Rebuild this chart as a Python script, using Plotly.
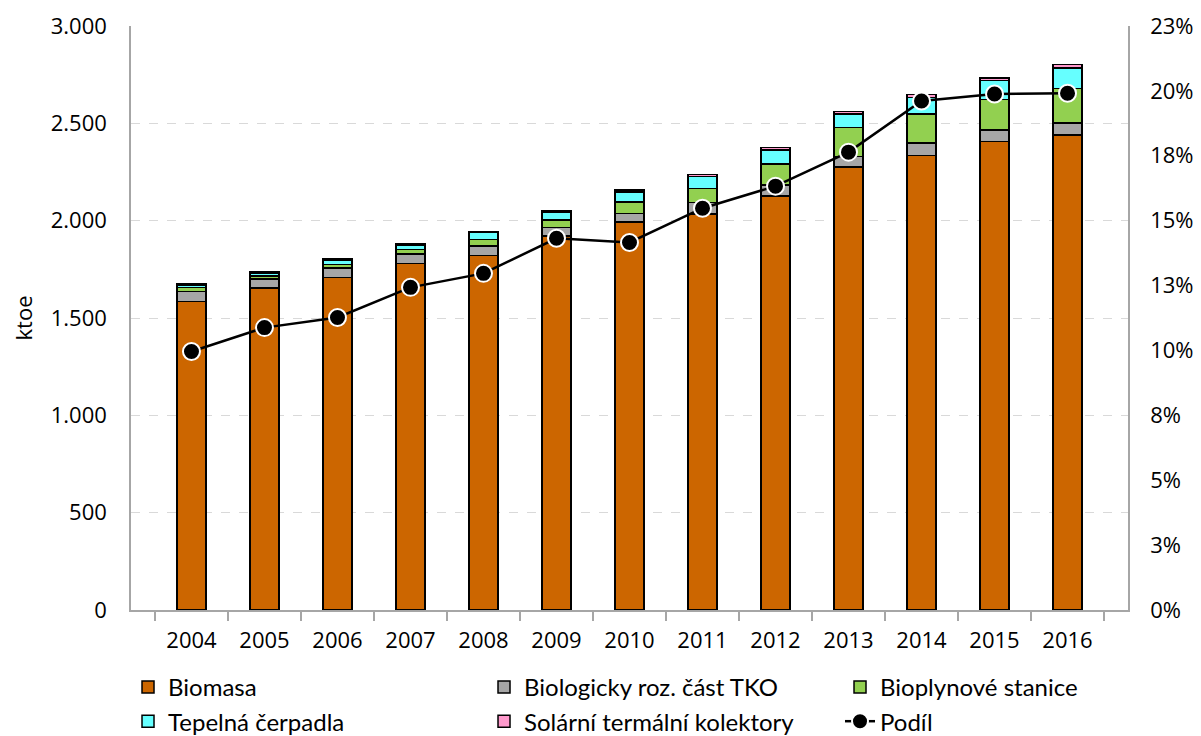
import plotly.graph_objects as go

years = ["2004", "2005", "2006", "2007", "2008", "2009", "2010",
         "2011", "2012", "2013", "2014", "2015", "2016"]
biomasa = [1585, 1655, 1707, 1780, 1822, 1921, 1993, 2033, 2127, 2276, 2336, 2407, 2441]
tko = [50, 45, 50, 50, 48, 43, 45, 60, 55, 53, 62, 60, 60]
bioplyn = [22, 15, 18, 22, 34, 39, 58, 73, 108, 149, 149, 155, 179]
cerpadla = [12, 17, 20, 22, 34, 41, 51, 62, 74, 69, 86, 97, 104]
solar = [5, 8, 8, 9, 7, 8, 10, 10, 12, 14, 16, 15, 19]
podil = [9.96, 10.88, 11.27, 12.43, 12.97, 14.32, 14.16, 15.48, 16.33, 17.64, 19.61, 19.88, 19.91]

left_ticks = [0, 500, 1000, 1500, 2000, 2500, 3000]
right_tickvals = [0, 2.5, 5, 7.5, 10, 12.5, 15, 17.5, 20, 22.5]
right_ticktext = ["0%", "3%", "5%", "8%", "10%", "13%", "15%", "18%", "20%", "23%"]

series = [
    ("Biomasa", biomasa, "#CC6600"),
    ("Biologicky roz. část TKO", tko, "#A6A6A6"),
    ("Bioplynové stanice", bioplyn, "#92D050"),
    ("Tepelná čerpadla", cerpadla, "#66FFFF"),
    ("Solární termální kolektory", solar, "#FF99CC"),
]

fig = go.Figure()
for name, vals, col in series:
    fig.add_trace(go.Bar(
        x=years, y=vals, name=name, width=0.4,
        marker=dict(color=col, line=dict(color="black", width=1.5)),
        yaxis="y",
    ))

fig.add_trace(go.Scatter(
    x=years, y=podil, name="Podíl", mode="lines+markers",
    line=dict(color="black", width=2.5),
    marker=dict(color="black", size=17, line=dict(color="white", width=2)),
    yaxis="y2",
))

tick_font = dict(family="Open Sans", size=22, color="black")
grey = "#A6A6A6"

fig.update_layout(
    width=1193, height=728,
    barmode="stack",
    separators=",.",
    plot_bgcolor="white",
    paper_bgcolor="white",
    margin=dict(l=123, r=73, t=18, b=126, autoexpand=False),
    showlegend=True,
    legend=dict(
        orientation="h", traceorder="normal",
        xref="paper", yref="paper",
        x=-0.003, y=-0.094, xanchor="left", yanchor="top",
        entrywidth=311, entrywidthmode="pixels",
        font=dict(family="Lato", size=24, color="black"),
        tracegroupgap=0, itemwidth=30,
        bgcolor="rgba(0,0,0,0)",
    ),
    xaxis=dict(
        type="category", showline=True, linecolor=grey, linewidth=1.5,
        ticks="outside", tickson="boundaries", ticklen=9, tickcolor=grey,
        tickwidth=1.5, tickfont=tick_font, showgrid=False, automargin=False,
        ticklabelstandoff=10,
    ),
    yaxis=dict(
        range=[0, 3000], tickvals=left_ticks, tickformat=",d",
        showgrid=True, gridcolor="#D9D9D9", griddash="dash", gridwidth=1.3,
        showline=True, linecolor=grey, linewidth=1.5, ticks="",
        tickfont=tick_font, ticklabelstandoff=18, zeroline=False,
        automargin=False,
        title=dict(text="ktoe", font=tick_font, standoff=22),
    ),
    yaxis2=dict(
        range=[0, 22.5], overlaying="y", side="right",
        tickvals=right_tickvals, ticktext=right_ticktext,
        ticks="outside", ticklen=16, tickcolor="rgba(0,0,0,0)",
        showline=True, linecolor=grey, linewidth=1.5, showgrid=False,
        zeroline=False, tickfont=tick_font, automargin=False,
    ),
    yaxis3=dict(
        range=[0, 22.5], overlaying="y", side="right",
        tickvals=right_tickvals, showticklabels=False,
        ticks="outside", ticklen=7, tickcolor=grey, tickwidth=1.5,
        showline=False, showgrid=False, zeroline=False, automargin=False,
    ),
)

fig.write_html("out.html")
